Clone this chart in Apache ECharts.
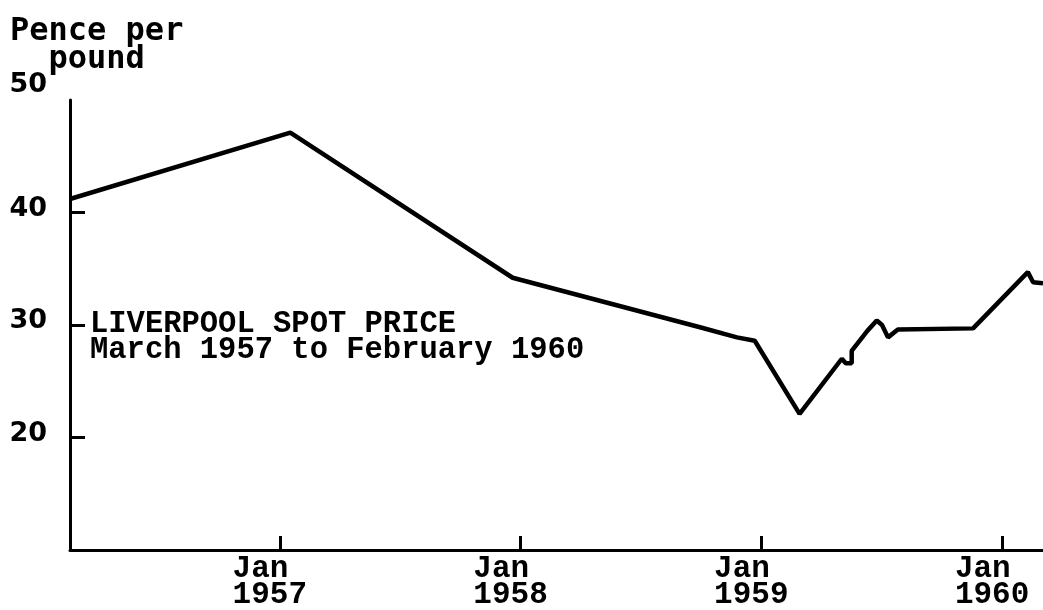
<!DOCTYPE html>
<html>
<head>
<meta charset="utf-8">
<script src="https://cdn.jsdelivr.net/npm/echarts@6/dist/echarts.min.js"></script>
<style>
  html, body { margin: 0; padding: 0; background: #fff; }
  #chart { width: 1043px; height: 610px; }
</style>
</head>
<body>
<div id="chart"></div>
<script>
// Liverpool spot price, pence per pound
const dates = [
  "1956-02-18", "1957-01-17", "1957-12-20", "1958-09-30", "1958-11-25",
  "1958-12-22", "1959-02-28", "1959-05-03", "1959-05-09", "1959-05-18",
  "1959-05-18", "1959-06-11", "1959-06-25", "1959-07-03", "1959-07-12",
  "1959-07-27", "1959-11-18", "1960-02-09", "1960-02-17", "1960-03-03"
];
const prices = [
  41.2, 47.1, 34.2, 29.8, 28.9,
  28.6, 22.1, 27.0, 26.6, 26.6,
  27.7, 29.5, 30.4, 30.0, 28.9,
  29.6, 29.7, 34.7, 33.8, 33.7
];
const yearTicks = ["1957-01-01", "1958-01-01", "1959-01-01", "1960-01-01"];
const yearLabels = ["1957", "1958", "1959", "1960"];
const yTickValues = [20, 30, 40];
const yLabelValues = [20, 30, 40, 50];

// dates go on a plain value axis as timestamps
const ts = (d) => new Date(d + "T00:00:00Z").getTime();
const yearTs = yearTicks.map(ts);
const mono = "Liberation Mono";

const chart = echarts.init(document.getElementById("chart"));

chart.setOption({
  animation: false,
  backgroundColor: "#fff",
  grid: { left: 70, right: 0, top: 100, bottom: 60, outerBoundsMode: "none" },
  xAxis: {
    type: "value",
    min: ts("1956-02-18"),
    max: ts("1960-03-03"),
    axisLine: { show: true, lineStyle: { color: "#000", width: 3 } },
    axisTick: {
      show: true,
      inside: true,
      length: 14,
      lineStyle: { color: "#000", width: 3 },
      customValues: yearTs,
    },
    splitLine: { show: false },
    axisLabel: {
      customValues: yearTs,
      // "Jan " padded to 4 chars so both lines start at the same x
      formatter: (v) => "Jan \n" + yearLabels[yearTs.indexOf(v)],
      fontFamily: mono,
      fontWeight: "bold",
      fontSize: 31,
      lineHeight: 26,
      color: "#000",
      margin: 6,
      padding: [0, 20, 0, 0],
    },
  },
  yAxis: {
    type: "value",
    min: 10,
    max: 50,
    interval: 10,
    axisLine: { show: true, lineStyle: { color: "#000", width: 3 } },
    axisTick: {
      show: true,
      inside: true,
      length: 15,
      lineStyle: { color: "#000", width: 3 },
      customValues: yTickValues,
    },
    splitLine: { show: false },
    axisLabel: {
      customValues: yLabelValues,
      formatter: (v) => (v === 50 ? "{top|50}" : String(v)),
      fontFamily: "DejaVu Sans",
      fontWeight: "bold",
      fontSize: 27,
      color: "#000",
      margin: 23,
      padding: [0, 0, 8, 0],
      rich: {
        top: {
          fontFamily: "DejaVu Sans",
          fontWeight: "bold",
          fontSize: 27,
          color: "#000",
          padding: [0, 0, 22, 0],
        },
      },
    },
  },
  graphic: [
    {
      type: "text",
      left: 10,
      top: 16,
      style: {
        text: "Pence per\n  pound",
        fontFamily: "DejaVu Sans Mono",
        fontWeight: "bold",
        fontSize: 32,
        lineHeight: 28,
        fill: "#000",
      },
    },
    {
      type: "text",
      left: 90,
      top: 309,
      style: {
        text: "LIVERPOOL SPOT PRICE\nMarch 1957 to February 1960",
        fontFamily: mono,
        fontWeight: "bold",
        fontSize: 30.5,
        lineHeight: 26,
        fill: "#000",
      },
    },
  ],
  series: [
    {
      type: "line",
      data: dates.map((d, i) => [ts(d), prices[i]]),
      showSymbol: false,
      lineStyle: { color: "#000", width: 4.5 },
      z: 3,
    },
  ],
});
</script>
</body>
</html>
